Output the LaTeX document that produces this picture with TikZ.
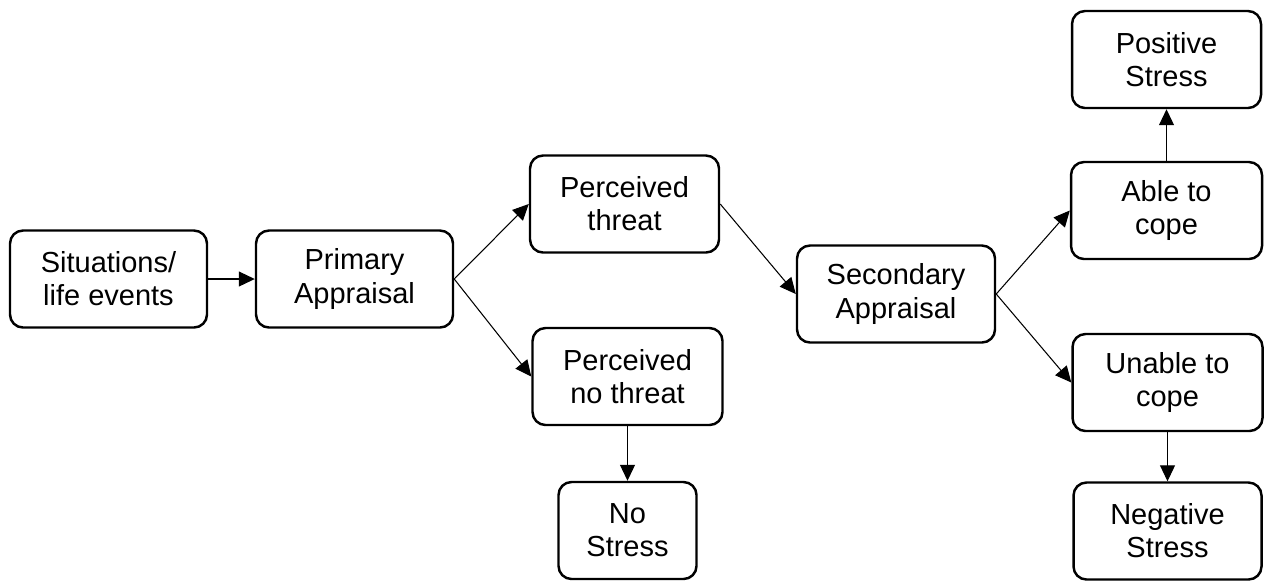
\documentclass[tikz,border=0pt]{standalone}
\usepackage{fontspec}
\setmainfont{Liberation Sans}
\usetikzlibrary{arrows.meta}
\tikzset{
  box/.style={draw, line width=1.4pt, rounded corners=0.26cm, align=center,
    inner sep=0pt, minimum height=97*0.02cm,
    font=\fontsize{16.5}{18.8}\selectfont},
  arr/.style={line width=0.6pt, -{Triangle[length=0.32cm,width=0.3cm]}}
}
\begin{document}
\begin{tikzpicture}[x=0.02cm, y=-0.02cm]
            \useasboundingbox (0,0) rectangle (1266,583);

            % Drawing first column
            \node [box, minimum width=197*0.02cm] (sit) at (108.5,279) {Situations/\\life events};
            \node [box, minimum width=197*0.02cm] (prim) at (354.5,279) {Primary\\Appraisal};

            % Drawing threat branch
            \node [box, minimum width=189*0.02cm] (thr) at (624.5,204) {Perceived\\threat};
            \node [box, minimum width=190*0.02cm] (nothr) at (627.5,376.5) {Perceived\\no threat};
            \node [box, minimum width=138*0.02cm] (nostr) at (627.5,530.5) {No\\Stress};

            % Drawing second appraisal
            \node [box, minimum width=198*0.02cm] (sec) at (896,294) {Secondary\\Appraisal};

            % Drawing cope branch
            \node [box, minimum width=191*0.02cm] (able) at (1166.5,210.5) {Able to\\cope};
            \node [box, minimum width=189*0.02cm] (pos) at (1166.5,59.5) {Positive\\Stress};
            \node [box, minimum width=190*0.02cm] (unable) at (1167.5,382.5) {Unable to\\cope};
            \node [box, minimum width=188*0.02cm] (neg) at (1167.5,531) {Negative\\Stress};

            % Drawing arrows
            \draw [arr] (sit.east) -- (prim.west);
            \draw [arr] (prim.east) -- (thr.west);
            \draw [arr] (prim.east) -- (nothr.west);
            \draw [arr] (nothr.south) -- (nostr.north);
            \draw [arr] (thr.east) -- (sec.west);
            \draw [arr] (sec.east) -- (able.west);
            \draw [arr] (sec.east) -- (unable.west);
            \draw [arr] (able.north) -- (pos.south);
            \draw [arr] (unable.south) -- (neg.north);
\end{tikzpicture}
\end{document}
